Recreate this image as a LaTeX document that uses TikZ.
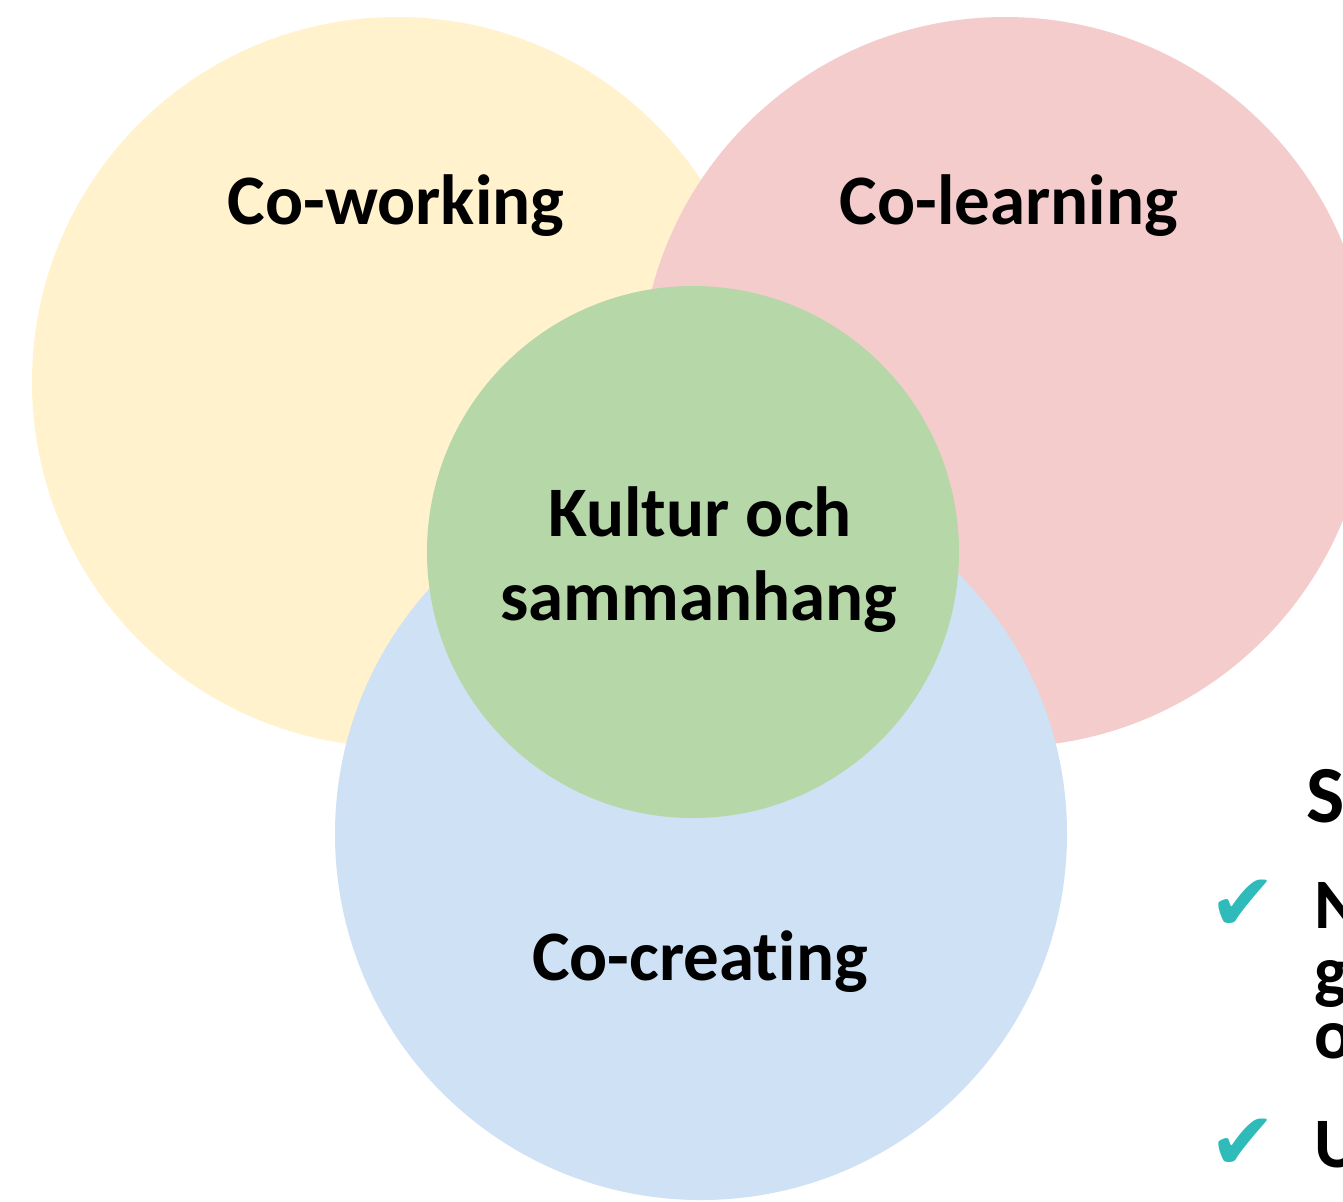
\documentclass[tikz,border=0pt]{standalone}
\usepackage{fontspec}
\setmainfont{Carlito}[Ligatures={NoCommon}]
\newfontfamily\symfont{DejaVu Sans}
\definecolor{cyellow}{HTML}{FFF2CC}
\definecolor{cpink}{HTML}{F4CCCC}
\definecolor{cblue}{HTML}{CFE1F4}
\definecolor{cgreen}{HTML}{B6D7A8}
\definecolor{cteal}{HTML}{2EBBBA}
\begin{document}
\begin{tikzpicture}[x=0.5pt,y=-0.5pt,
  blob/.style={circle,inner sep=0pt,draw=none},
  lbl/.style={font=\fontsize{35.5}{42}\selectfont\bfseries,anchor=base,inner sep=0pt},
  side/.style={font=\fontsize{35.5}{42}\selectfont\bfseries,anchor=base west,inner sep=0pt},
  tick/.style={font=\fontsize{40}{46}\selectfont\symfont\bfseries,text=cteal,inner sep=0pt}]
\useasboundingbox (0,0) rectangle (1343,1201);
\clip (0,0) rectangle (1343,1201);
\fill[white] (0,0) rectangle (1343,1201);
\node[blob,fill=cyellow,minimum size=365pt] (cw) at (397,382) {};
\node[blob,fill=cpink,minimum size=365pt] (cl) at (1005,382) {};
\node[blob,fill=cblue,minimum size=366pt] (cc) at (701,834) {};
\node[blob,fill=cgreen,minimum size=266pt] (kc) at (693,552) {};
\node[lbl] (tw) at (396,224) {Co-working};
\node[lbl] (tl) at (1009,224) {Co-learning};
\node[lbl] (tk1) at (700,536) {Kultur och};
\node[lbl] (tk2) at (699,620) {sammanhang};
\node[lbl] (tc) at (700,980) {Co-creating};
\node[side,font=\fontsize{40.5}{48}\selectfont\bfseries] (hs) at (1306,822) {S};
\node[tick] (ck1) at (1243,905) {✔};
\node[tick] (ck2) at (1243,1144) {✔};
\node[side] (l1) at (1314,928) {N};
\node[side] (l2) at (1314,995) {g};
\node[side] (l3) at (1314,1058) {o};
\node[side] (l4) at (1314,1167) {U};
\end{tikzpicture}
\end{document}
